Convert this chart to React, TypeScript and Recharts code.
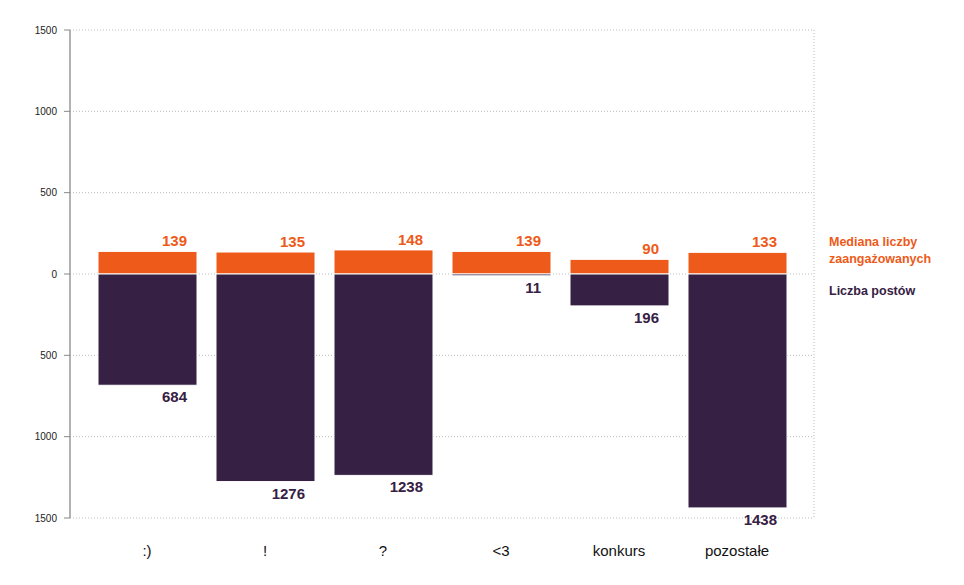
import { BarChart, Bar, XAxis, YAxis, CartesianGrid, LabelList } from 'recharts';

const categories = [':)', '!', '?', '<3', 'konkurs', 'pozostałe'];
const medianEngaged = [139, 135, 148, 139, 90, 133];
const postCount = [684, 1276, 1238, 11, 196, 1438];
const yTicks = [-1500, -1000, -500, 0, 500, 1000, 1500];

const ORANGE = '#ed5a19';
const PURPLE = '#362044';
const FONT = '"Liberation Sans", Arial, Helvetica, sans-serif';

const data = categories.map((name, i) => ({
  name,
  median: medianEngaged[i],
  posts: -postCount[i],
}));

const TopLabel = (props: any) => {
  const { x, y, width, height, value } = props;
  const top = Math.min(y, y + height);
  return (
    <text x={x + width - 10} y={top - 5} textAnchor="end" fill={ORANGE} fontSize={15} fontWeight="bold" fontFamily={FONT}>
      {Math.abs(value)}
    </text>
  );
};

const BottomLabel = (props: any) => {
  const { x, y, width, height, value } = props;
  const bottom = Math.max(y, y + height);
  return (
    <text x={x + width - 10} y={bottom + 17} textAnchor="end" fill={PURPLE} fontSize={15} fontWeight="bold" fontFamily={FONT}>
      {Math.abs(value)}
    </text>
  );
};

export default function App() {
  return (
    <div style={{ position: 'absolute', left: 0, top: 0, width: 964, height: 585, background: '#fff', fontFamily: FONT }}>
      <BarChart
        width={964}
        height={585}
        data={data}
        stackOffset="sign"
        barSize={99}
        margin={{ top: 30, right: 150, left: 10, bottom: 27 }}
      >
        <CartesianGrid stroke="#bbb" strokeDasharray="1 2" verticalPoints={[814]} />
        <XAxis
          dataKey="name"
          axisLine={false}
          tickLine={false}
          tickMargin={21}
          height={40}
          padding={{ left: 18, right: 18 }}
          tick={{ fill: '#111', fontSize: 15, fontFamily: FONT }}
        />
        <YAxis
          type="number"
          domain={[-1500, 1500]}
          ticks={yTicks}
          width={60}
          interval={0}
          tickMargin={7}
          axisLine={{ stroke: '#999', strokeWidth: 1.5 }}
          tickLine={{ stroke: '#888' }}
          tickFormatter={(v: number) => String(Math.abs(v))}
          tick={{ fill: '#222', fontSize: 10, fontFamily: FONT }}
        />
        <Bar dataKey="median" stackId="s" fill={ORANGE} stroke="#fff" strokeWidth={1} isAnimationActive={false}>
          <LabelList dataKey="median" content={TopLabel} />
        </Bar>
        <Bar dataKey="posts" stackId="s" fill={PURPLE} stroke="#fff" strokeWidth={1} isAnimationActive={false}>
          <LabelList dataKey="posts" content={BottomLabel} />
        </Bar>
      </BarChart>
      <div style={{ position: 'absolute', left: 829, top: 234, fontSize: 12.5, fontWeight: 'bold', lineHeight: '17px', color: ORANGE }}>
        Mediana liczby
        <br />
        zaangażowanych
      </div>
      <div style={{ position: 'absolute', left: 829, top: 283, fontSize: 12.5, fontWeight: 'bold', lineHeight: '17px', color: PURPLE }}>
        Liczba postów
      </div>
    </div>
  );
}
